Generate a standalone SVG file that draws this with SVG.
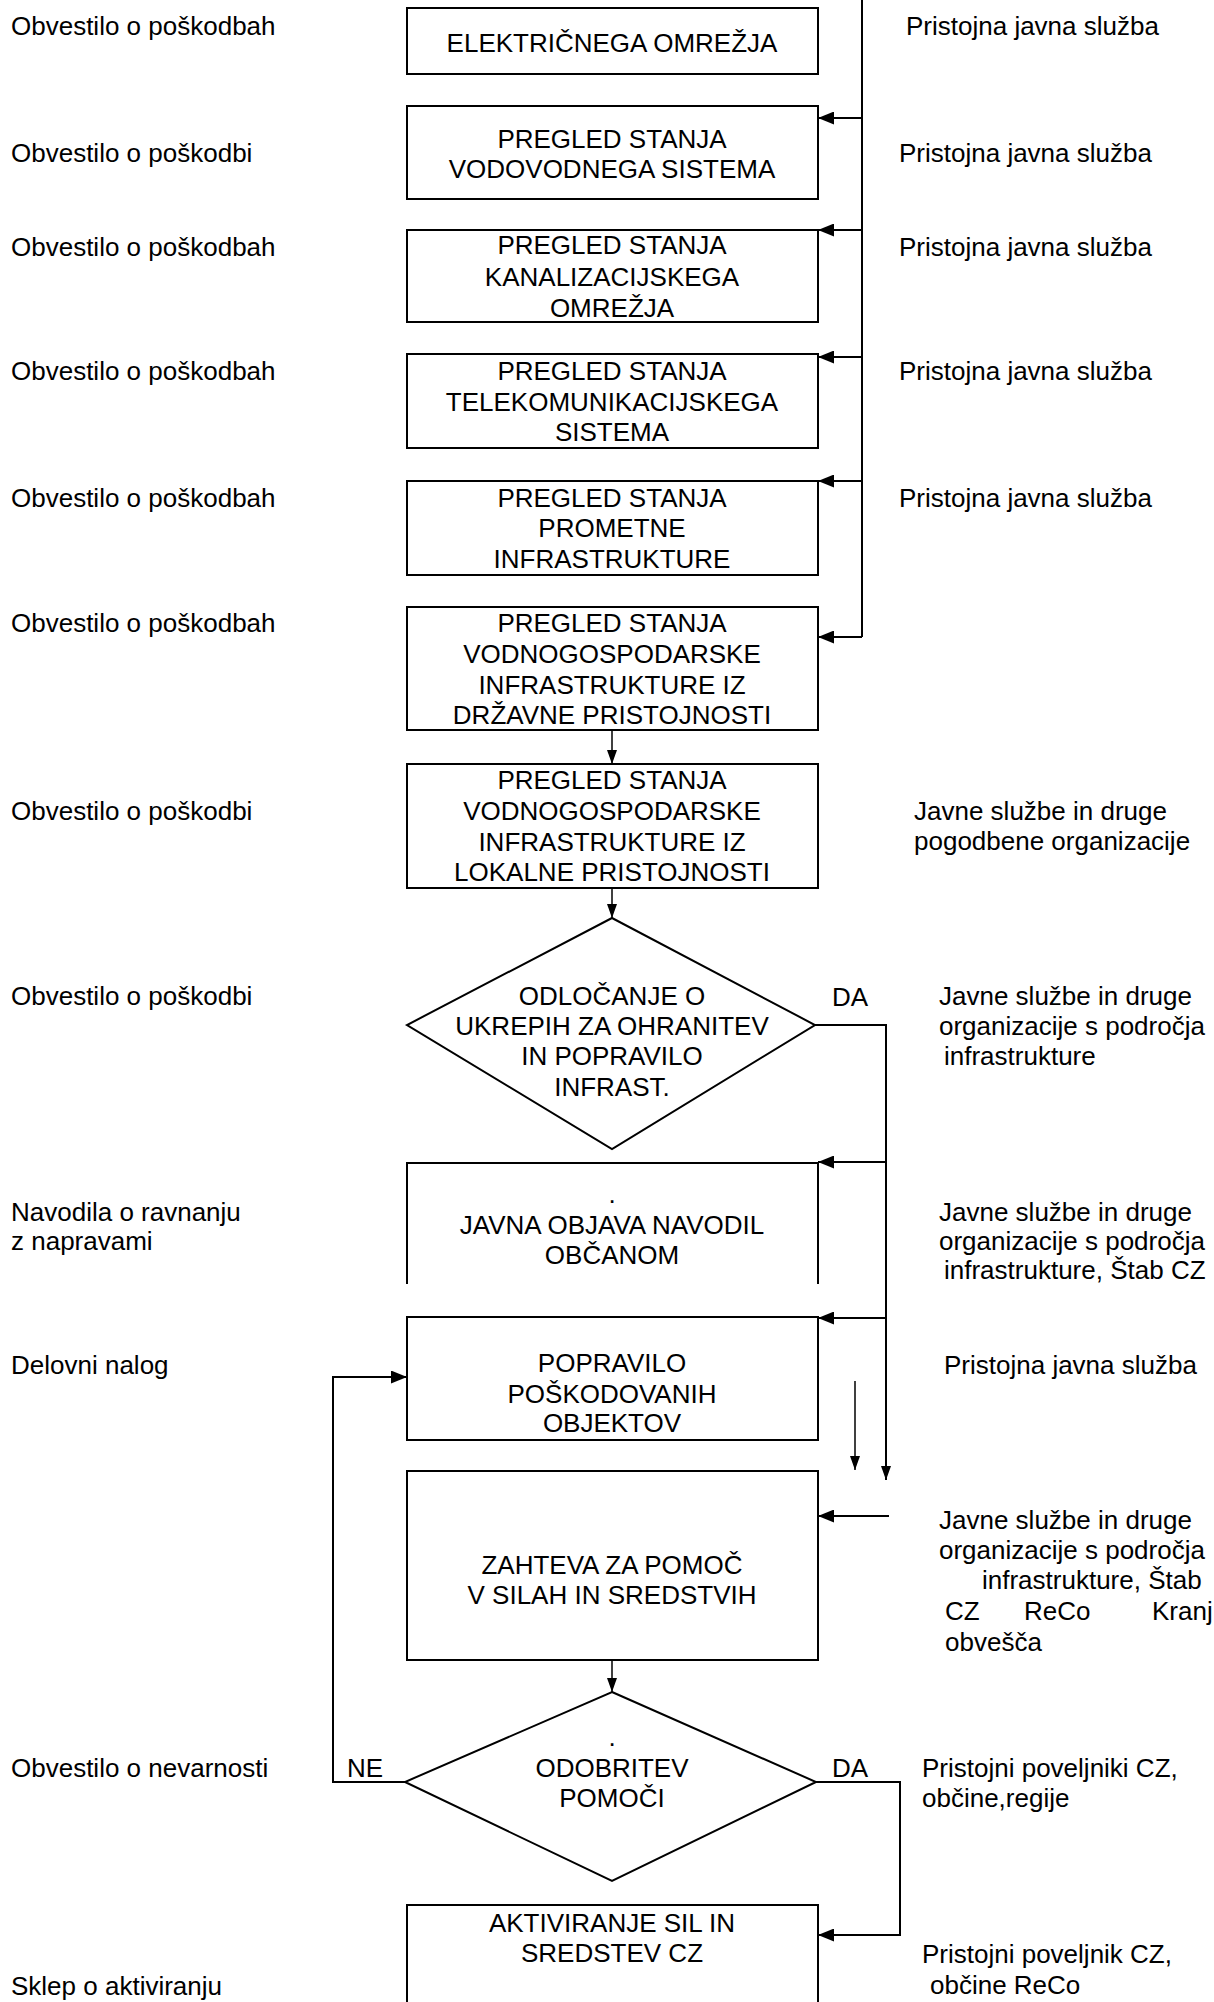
<svg xmlns="http://www.w3.org/2000/svg" width="1214" height="2002" viewBox="0 0 1214 2002">
<style>
text{font-family:"Liberation Sans",Arial,sans-serif;font-size:26px;fill:#000}
.c{text-anchor:middle}
.box{fill:none;stroke:#000;stroke-width:2}
.ln{fill:none;stroke:#000;stroke-width:2}
.tn{fill:none;stroke:#000;stroke-width:1.5}
</style>
<defs>
<marker id="ah" markerWidth="16" markerHeight="13" refX="16" refY="6.5" orient="auto" markerUnits="userSpaceOnUse"><path d="M0,0 L16,6.5 L0,13 z" fill="#000"/></marker>
<marker id="as" markerWidth="14" markerHeight="10" refX="14" refY="5" orient="auto" markerUnits="userSpaceOnUse"><path d="M0,0 L14,5 L0,10 z" fill="#000"/></marker>
</defs>
<rect width="1214" height="2002" fill="#fff"/>

<g id="connectors">
<path class="ln" d="M862,0 V637"/>
<path class="ln" d="M862,118 H818" marker-end="url(#ah)"/>
<path class="ln" d="M862,230 H818" marker-end="url(#ah)"/>
<path class="ln" d="M862,357 H818" marker-end="url(#ah)"/>
<path class="ln" d="M862,481 H818" marker-end="url(#ah)"/>
<path class="ln" d="M862,637 H818" marker-end="url(#ah)"/>
<path class="tn" d="M612,730 V764" marker-end="url(#as)"/>
<path class="tn" d="M612,888 V918" marker-end="url(#as)"/>
<path class="ln" d="M815,1025 H886 V1480" marker-end="url(#as)"/>
<path class="ln" d="M886,1162 H818" marker-end="url(#ah)"/>
<path class="ln" d="M886,1318 H818" marker-end="url(#ah)"/>
<path class="tn" d="M855,1381 V1470" marker-end="url(#as)"/>
<path class="ln" d="M889,1516 H818" marker-end="url(#ah)"/>
<path class="tn" d="M612,1660 V1692" marker-end="url(#as)"/>
<path class="ln" d="M405,1782 H333 V1377 H407" marker-end="url(#ah)"/>
<path class="ln" d="M816,1782 H900 V1935 H818" marker-end="url(#ah)"/>
</g>

<g id="n1">
<rect class="box" x="407" y="8" width="411" height="66"/>
<text class="c" x="612" y="52">ELEKTRIČNEGA OMREŽJA</text>
</g>
<g id="n2">
<rect class="box" x="407" y="106" width="411" height="93"/>
<text class="c" x="612" y="148">PREGLED STANJA</text>
<text class="c" x="612" y="178">VODOVODNEGA SISTEMA</text>
</g>
<g id="n3">
<rect class="box" x="407" y="230" width="411" height="92"/>
<text class="c" x="612" y="254">PREGLED STANJA</text>
<text class="c" x="612" y="286">KANALIZACIJSKEGA</text>
<text class="c" x="612" y="317">OMREŽJA</text>
</g>
<g id="n4">
<rect class="box" x="407" y="354" width="411" height="94"/>
<text class="c" x="612" y="380">PREGLED STANJA</text>
<text class="c" x="612" y="411">TELEKOMUNIKACIJSKEGA</text>
<text class="c" x="612" y="441">SISTEMA</text>
</g>
<g id="n5">
<rect class="box" x="407" y="481" width="411" height="94"/>
<text class="c" x="612" y="507">PREGLED STANJA</text>
<text class="c" x="612" y="537">PROMETNE</text>
<text class="c" x="612" y="568">INFRASTRUKTURE</text>
</g>
<g id="n6">
<rect class="box" x="407" y="607" width="411" height="123"/>
<text class="c" x="612" y="632">PREGLED STANJA</text>
<text class="c" x="612" y="663">VODNOGOSPODARSKE</text>
<text class="c" x="612" y="694">INFRASTRUKTURE IZ</text>
<text class="c" x="612" y="724">DRŽAVNE PRISTOJNOSTI</text>
</g>
<g id="n7">
<rect class="box" x="407" y="764" width="411" height="124"/>
<text class="c" x="612" y="789">PREGLED STANJA</text>
<text class="c" x="612" y="820">VODNOGOSPODARSKE</text>
<text class="c" x="612" y="851">INFRASTRUKTURE IZ</text>
<text class="c" x="612" y="881">LOKALNE PRISTOJNOSTI</text>
</g>
<g id="d1">
<polygon class="box" points="612,918 815,1025 612,1149 407,1025"/>
<text class="c" x="612" y="1005">ODLOČANJE O</text>
<text class="c" x="612" y="1035">UKREPIH ZA OHRANITEV</text>
<text class="c" x="612" y="1065">IN POPRAVILO</text>
<text class="c" x="612" y="1096">INFRAST.</text>
</g>
<g id="n8">
<path class="box" d="M407,1284 V1163 H818 V1284"/>
<text class="c" x="612" y="1203">.</text>
<text class="c" x="612" y="1234">JAVNA OBJAVA NAVODIL</text>
<text class="c" x="612" y="1264">OBČANOM</text>
</g>
<g id="n9">
<rect class="box" x="407" y="1317" width="411" height="123"/>
<text class="c" x="612" y="1372">POPRAVILO</text>
<text class="c" x="612" y="1403">POŠKODOVANIH</text>
<text class="c" x="612" y="1432">OBJEKTOV</text>
</g>
<g id="n10">
<rect class="box" x="407" y="1471" width="411" height="189"/>
<text class="c" x="612" y="1574">ZAHTEVA ZA POMOČ</text>
<text class="c" x="612" y="1604">V SILAH IN SREDSTVIH</text>
</g>
<g id="d2">
<polygon class="box" points="612,1692 816,1782 612,1881 405,1782"/>
<text class="c" x="612" y="1746">.</text>
<text class="c" x="612" y="1777">ODOBRITEV</text>
<text class="c" x="612" y="1807">POMOČI</text>
</g>
<g id="n11">
<path class="box" d="M407,2003 V1905 H818 V2003"/>
<text class="c" x="612" y="1932">AKTIVIRANJE SIL IN</text>
<text class="c" x="612" y="1962">SREDSTEV CZ</text>
</g>

<g id="edge-labels">
<text x="850" y="1006" class="c">DA</text>
<text x="850" y="1777" class="c">DA</text>
<text x="365" y="1777" class="c">NE</text>
</g>

<g id="left-labels">
<text x="11" y="35">Obvestilo o poškodbah</text>
<text x="11" y="162">Obvestilo o poškodbi</text>
<text x="11" y="256">Obvestilo o poškodbah</text>
<text x="11" y="380">Obvestilo o poškodbah</text>
<text x="11" y="507">Obvestilo o poškodbah</text>
<text x="11" y="632">Obvestilo o poškodbah</text>
<text x="11" y="820">Obvestilo o poškodbi</text>
<text x="11" y="1005">Obvestilo o poškodbi</text>
<text x="11" y="1221">Navodila o ravnanju</text>
<text x="11" y="1250">z napravami</text>
<text x="11" y="1374">Delovni nalog</text>
<text x="11" y="1777">Obvestilo o nevarnosti</text>
<text x="11" y="1995">Sklep o aktiviranju</text>
</g>

<g id="right-labels">
<text x="906" y="35">Pristojna javna služba</text>
<text x="899" y="162">Pristojna javna služba</text>
<text x="899" y="256">Pristojna javna služba</text>
<text x="899" y="380">Pristojna javna služba</text>
<text x="899" y="507">Pristojna javna služba</text>
<text x="914" y="820">Javne službe in druge</text>
<text x="914" y="850">pogodbene organizacije</text>
<text x="939" y="1005">Javne službe in druge</text>
<text x="939" y="1035">organizacije s področja</text>
<text x="944" y="1065">infrastrukture</text>
<text x="939" y="1221">Javne službe in druge</text>
<text x="939" y="1250">organizacije s področja</text>
<text x="944" y="1279">infrastrukture, Štab CZ</text>
<text x="944" y="1374">Pristojna javna služba</text>
<text x="939" y="1529">Javne službe in druge</text>
<text x="939" y="1559">organizacije s področja</text>
<text x="982" y="1589">infrastrukture,  Štab</text>
<text y="1620"><tspan x="945">CZ</tspan><tspan x="1024">ReCo</tspan><tspan x="1152">Kranj</tspan></text>
<text x="945" y="1651">obvešča</text>
<text x="922" y="1777">Pristojni poveljniki CZ,</text>
<text x="922" y="1807">občine,regije</text>
<text x="922" y="1963">Pristojni poveljnik CZ,</text>
<text x="930" y="1994">občine ReCo</text>
</g>
</svg>
